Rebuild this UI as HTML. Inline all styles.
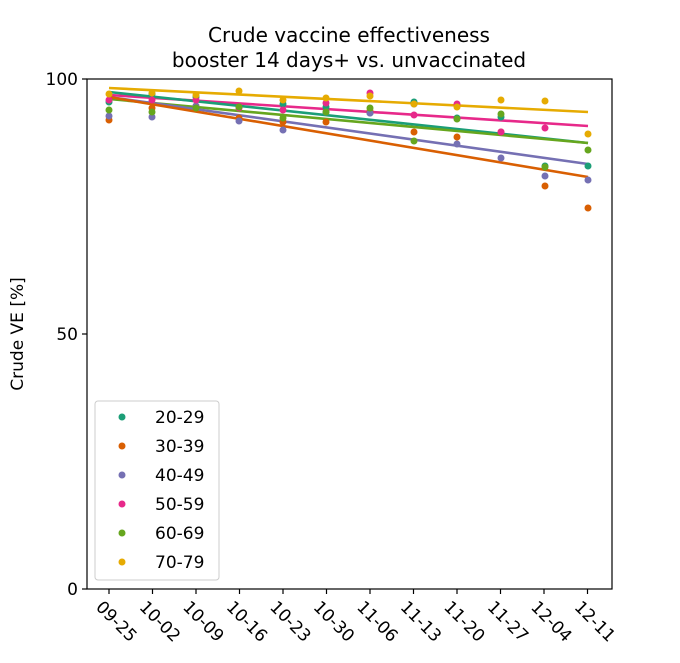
<!DOCTYPE html>
<html><head><meta charset="utf-8"><style>
html,body{margin:0;padding:0;background:#fff;}
svg{display:block;font-family:"DejaVu Sans","Liberation Sans",sans-serif;}
</style></head><body>
<svg width="680" height="663" viewBox="0 0 680 663" xmlns="http://www.w3.org/2000/svg">
<rect width="680" height="663" fill="#fff"/>
<text x="349" y="42" font-size="20" text-anchor="middle">Crude vaccine effectiveness</text>
<text x="349" y="67" font-size="20" text-anchor="middle">booster 14 days+ vs. unvaccinated</text>
<g stroke-width="2.6" fill="none">
<line x1="109" y1="88" x2="588" y2="112" stroke="#e6ab02"/>
<line x1="109" y1="95" x2="588" y2="126" stroke="#e7298a"/>
<line x1="109" y1="92" x2="588" y2="143" stroke="#1b9e77"/>
<line x1="109" y1="99" x2="588" y2="143" stroke="#66a61e"/>
<line x1="109" y1="97" x2="588" y2="164" stroke="#7570b3"/>
<line x1="109" y1="97" x2="588" y2="177" stroke="#d95f02"/>
</g>
<g>
<g fill="#1b9e77">
<circle cx="109" cy="102" r="3.5"/><circle cx="152" cy="94" r="3.5"/><circle cx="196" cy="97" r="3.5"/><circle cx="239" cy="107" r="3.5"/><circle cx="283" cy="104" r="3.5"/><circle cx="326" cy="107" r="3.5"/><circle cx="370" cy="113" r="3.5"/><circle cx="414" cy="102" r="3.5"/><circle cx="457" cy="118" r="3.5"/><circle cx="501" cy="117" r="3.5"/><circle cx="545" cy="166" r="3.5"/><circle cx="588" cy="166" r="3.5"/>
</g>
<g fill="#d95f02">
<circle cx="109" cy="120" r="3.5"/><circle cx="152" cy="108" r="3.5"/><circle cx="196" cy="106" r="3.5"/><circle cx="239" cy="118" r="3.5"/><circle cx="283" cy="122" r="3.5"/><circle cx="326" cy="122" r="3.5"/><circle cx="370" cy="111" r="3.5"/><circle cx="414" cy="132" r="3.5"/><circle cx="457" cy="137" r="3.5"/><circle cx="501" cy="132" r="3.5"/><circle cx="545" cy="186" r="3.5"/><circle cx="588" cy="208" r="3.5"/>
</g>
<g fill="#7570b3">
<circle cx="109" cy="116" r="3.5"/><circle cx="152" cy="117" r="3.5"/><circle cx="196" cy="106" r="3.5"/><circle cx="239" cy="121" r="3.5"/><circle cx="283" cy="130" r="3.5"/><circle cx="326" cy="112" r="3.5"/><circle cx="370" cy="113" r="3.5"/><circle cx="414" cy="104" r="3.5"/><circle cx="457" cy="144" r="3.5"/><circle cx="501" cy="158" r="3.5"/><circle cx="545" cy="176" r="3.5"/><circle cx="588" cy="180" r="3.5"/>
</g>
<g fill="#e7298a">
<circle cx="109" cy="100" r="3.5"/><circle cx="152" cy="100" r="3.5"/><circle cx="196" cy="100" r="3.5"/><circle cx="239" cy="108" r="3.5"/><circle cx="283" cy="110" r="3.5"/><circle cx="326" cy="103" r="3.5"/><circle cx="370" cy="93" r="3.5"/><circle cx="414" cy="115" r="3.5"/><circle cx="457" cy="104" r="3.5"/><circle cx="501" cy="132" r="3.5"/><circle cx="545" cy="128" r="3.5"/>
</g>
<g fill="#66a61e">
<circle cx="109" cy="110" r="3.5"/><circle cx="152" cy="112" r="3.5"/><circle cx="196" cy="108" r="3.5"/><circle cx="239" cy="107" r="3.5"/><circle cx="283" cy="118" r="3.5"/><circle cx="326" cy="112" r="3.5"/><circle cx="370" cy="108" r="3.5"/><circle cx="414" cy="141" r="3.5"/><circle cx="457" cy="119" r="3.5"/><circle cx="501" cy="114" r="3.5"/><circle cx="545" cy="167" r="3.5"/><circle cx="588" cy="150" r="3.5"/>
</g>
<g fill="#e6ab02">
<circle cx="109" cy="94" r="3.5"/><circle cx="152" cy="93" r="3.5"/><circle cx="196" cy="95" r="3.5"/><circle cx="239" cy="91" r="3.5"/><circle cx="283" cy="100" r="3.5"/><circle cx="326" cy="98" r="3.5"/><circle cx="370" cy="96" r="3.5"/><circle cx="414" cy="104" r="3.5"/><circle cx="457" cy="107" r="3.5"/><circle cx="501" cy="100" r="3.5"/><circle cx="545" cy="101" r="3.5"/><circle cx="588" cy="134" r="3.5"/>
</g>
</g>
<rect x="87" y="79" width="525" height="510" fill="none" stroke="#000" stroke-width="1.2"/>
<g stroke="#000" stroke-width="1.2">
<line x1="82" y1="79" x2="87" y2="79"/><line x1="82" y1="334" x2="87" y2="334"/><line x1="82" y1="589" x2="87" y2="589"/>
</g>
<g font-size="17" text-anchor="end">
<text x="78" y="85">100</text><text x="78" y="340">50</text><text x="78" y="595">0</text>
</g>
<text transform="translate(23,334) rotate(-90)" font-size="17" text-anchor="middle">Crude VE [%]</text>
<g stroke="#000" stroke-width="1.2">
<line x1="109" y1="589" x2="109" y2="594"/><line x1="152.5" y1="589" x2="152.5" y2="594"/><line x1="196" y1="589" x2="196" y2="594"/><line x1="239.5" y1="589" x2="239.5" y2="594"/><line x1="283" y1="589" x2="283" y2="594"/><line x1="326.5" y1="589" x2="326.5" y2="594"/><line x1="370" y1="589" x2="370" y2="594"/><line x1="413.5" y1="589" x2="413.5" y2="594"/><line x1="457" y1="589" x2="457" y2="594"/><line x1="500.5" y1="589" x2="500.5" y2="594"/><line x1="544" y1="589" x2="544" y2="594"/><line x1="587.5" y1="589" x2="587.5" y2="594"/>
</g>
<g font-size="17">
<text transform="translate(95,608) rotate(45)">09-25</text>
<text transform="translate(138.5,608) rotate(45)">10-02</text>
<text transform="translate(182,608) rotate(45)">10-09</text>
<text transform="translate(225.5,608) rotate(45)">10-16</text>
<text transform="translate(269,608) rotate(45)">10-23</text>
<text transform="translate(312.5,608) rotate(45)">10-30</text>
<text transform="translate(356,608) rotate(45)">11-06</text>
<text transform="translate(399.5,608) rotate(45)">11-13</text>
<text transform="translate(443,608) rotate(45)">11-20</text>
<text transform="translate(486.5,608) rotate(45)">11-27</text>
<text transform="translate(530,608) rotate(45)">12-04</text>
<text transform="translate(573.5,608) rotate(45)">12-11</text>
</g>
<rect x="95" y="401" width="124" height="179" rx="3" fill="#fff" fill-opacity="0.8" stroke="#ccc" stroke-width="1"/>
<g font-size="17">
<circle cx="122" cy="417" r="3.5" fill="#1b9e77"/><text x="155" y="423">20-29</text>
<circle cx="122" cy="446" r="3.5" fill="#d95f02"/><text x="155" y="452">30-39</text>
<circle cx="122" cy="475" r="3.5" fill="#7570b3"/><text x="155" y="481">40-49</text>
<circle cx="122" cy="504" r="3.5" fill="#e7298a"/><text x="155" y="510">50-59</text>
<circle cx="122" cy="533" r="3.5" fill="#66a61e"/><text x="155" y="539">60-69</text>
<circle cx="122" cy="562" r="3.5" fill="#e6ab02"/><text x="155" y="568">70-79</text>
</g>
</svg>
</body></html>
